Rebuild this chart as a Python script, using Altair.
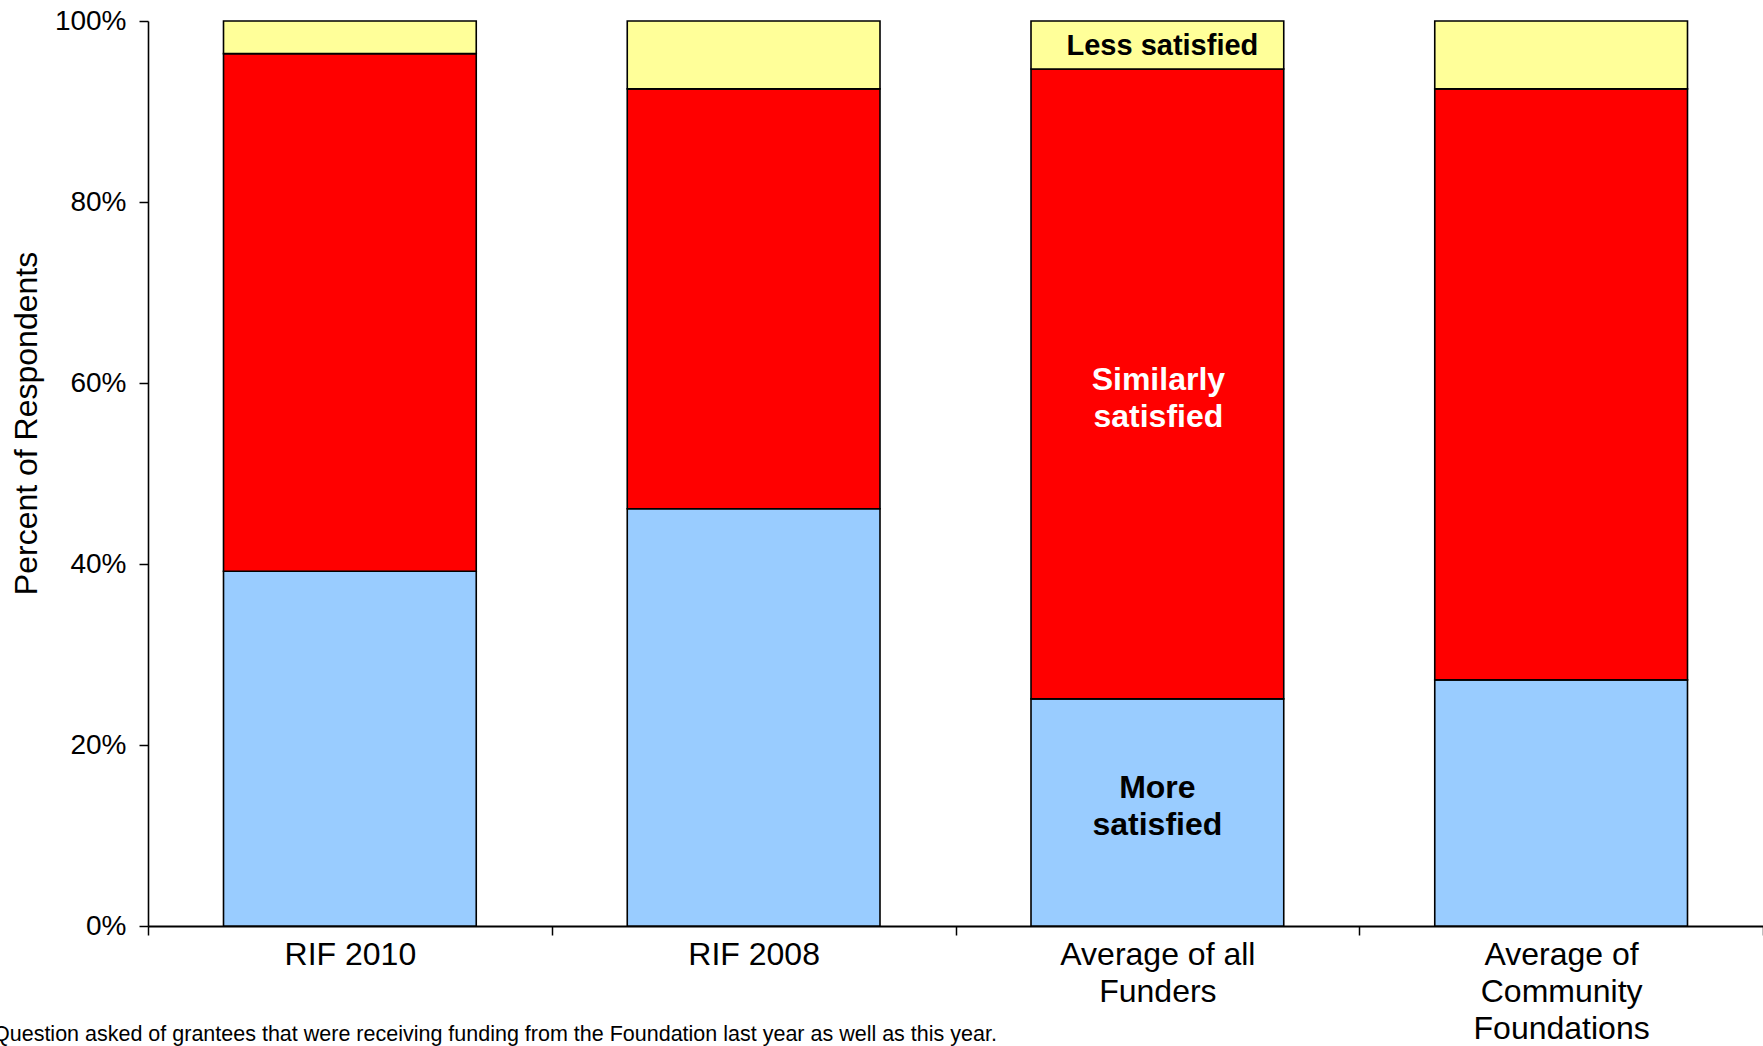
import altair as alt
import pandas as pd

# Share of respondents by satisfaction change, per funder group (percent)
categories = [
    "RIF 2010",
    "RIF 2008",
    "Average of all Funders",
    "Average of Community Foundations",
]
more_satisfied = [39.2, 46.1, 25.1, 27.2]
similarly_satisfied = [57.2, 46.4, 69.6, 65.3]
less_satisfied = [3.6, 7.5, 5.3, 7.5]

series = ["More satisfied", "Similarly satisfied", "Less satisfied"]
series_values = [more_satisfied, similarly_satisfied, less_satisfied]
series_colors = ["#99CCFF", "#FF0000", "#FFFF99"]

annotated_category = "Average of all Funders"
footnote = ("Question asked of grantees that were receiving funding from the "
            "Foundation last year as well as this year.")

rows = []
for rank, (name, values) in enumerate(zip(series, series_values)):
    for cat, v in zip(categories, values):
        rows.append({"category": cat, "series": name, "rank": rank, "value": v,
                     "label": name.replace(" ", "\n") if name != "Less satisfied" else name})
df = pd.DataFrame(rows)

FONT = "Liberation Sans"

x_enc = alt.X(
    "category:N",
    sort=categories,
    title=None,
    scale=alt.Scale(paddingInner=0, paddingOuter=0),
    axis=alt.Axis(
        tickBand="extent",
        labelAngle=0,
        labelFontSize=32,
        labelLineHeight=37,
        labelPadding=4,
        labelLimit=400,
        labelColor="black",
        tickSize=9,
        tickColor="black",
        tickWidth=1.5,
        domainColor="black",
        domainWidth=2,
        labelExpr=(
            "datum.value == 'Average of all Funders' ? ['Average of all', 'Funders'] : "
            "datum.value == 'Average of Community Foundations' ? "
            "['Average of', 'Community', 'Foundations'] : datum.label"
        ),
    ),
)

bars = alt.Chart(df).mark_bar(
    width=alt.RelativeBandSize(0.626),
    stroke="black",
    strokeWidth=1.6,
).encode(
    x=x_enc,
    y=alt.Y(
        "value:Q",
        stack="zero",
        scale=alt.Scale(domain=[0, 100], nice=False),
        title="Percent of Respondents",
        axis=alt.Axis(
            values=[0, 20, 40, 60, 80, 100],
            labelExpr="datum.value + '%'",
            labelFontSize=28,
            labelPadding=13,
            labelColor="black",
            tickSize=9,
            tickColor="black",
            tickWidth=1.5,
            domainColor="black",
            domainWidth=1.6,
            grid=False,
            titleFontSize=32,
            titleFontWeight="normal",
            titleColor="black",
            titleAngle=-90,
            titleAlign="center",
            titleBaseline="alphabetic",
            titleX=-112,
            titleY=402,
        ),
    ),
    color=alt.Color(
        "series:N",
        scale=alt.Scale(domain=series, range=series_colors),
        legend=None,
    ),
    order=alt.Order("rank:Q", sort="ascending"),
)

# Segment labels sit at the stacked midpoints of the annotated bar
stacked = alt.Chart(df).transform_filter(
    alt.datum.category == annotated_category
).transform_stack(
    stack="value",
    groupby=["category"],
    as_=["y0", "y1"],
    sort=[alt.SortField("rank", order="ascending")],
).transform_calculate(mid="(datum.y0 + datum.y1) / 2")


def segment_label(name, color, size, dx, dy):
    return stacked.transform_filter(alt.datum.series == name).mark_text(
        font=FONT,
        fontSize=size,
        fontWeight="bold",
        color=color,
        lineBreak="\n",
        lineHeight=37,
        align="center",
        baseline="middle",
        dx=dx,
        dy=dy,
    ).encode(
        x=alt.X("category:N", sort=categories),
        y=alt.Y("mid:Q"),
        text="label:N",
    )


labels = (
    segment_label("Less satisfied", "black", 29, 5, 1)
    + segment_label("Similarly satisfied", "white", 32, 1, -4)
    + segment_label("More satisfied", "black", 32, 0, -24)
)

note = alt.Chart(pd.DataFrame({"note": [footnote]})).mark_text(
    font=FONT,
    fontSize=21.5,
    color="black",
    align="left",
    baseline="alphabetic",
).encode(
    x=alt.value(-155),
    y=alt.value(1020),
    text="note:N",
)

chart = alt.layer(bars, labels, note).properties(
    width=1615,
    height=905,
    padding={"left": 148, "top": 21, "right": 0, "bottom": 120},
    autosize=alt.AutoSizeParams(type="none"),
    background="white",
).configure(
    font=FONT,
).configure_view(
    stroke=None,
)

chart.save("out.html", embed_options={"renderer": "svg", "actions": False})
